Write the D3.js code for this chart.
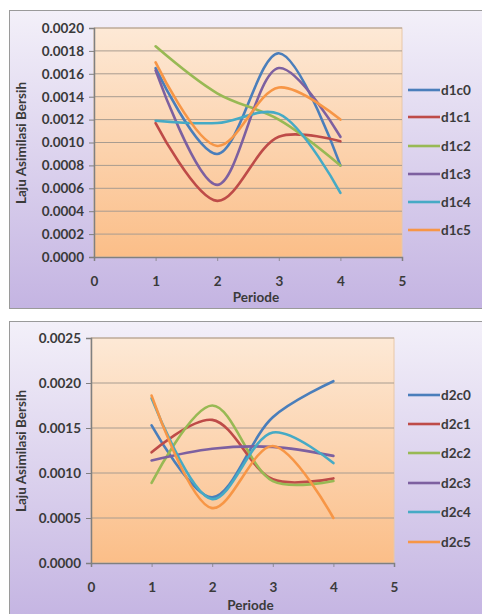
<!DOCTYPE html>
<html><head><meta charset="utf-8">
<script src="https://cdn.jsdelivr.net/npm/d3@7"></script>
<style>body{margin:0;background:#fff}svg{display:block}</style>
</head><body>
<svg id="c" width="482" height="614"></svg>
<script>
const periods = [1, 2, 3, 4];
const xTicks = [0, 1, 2, 3, 4, 5];
const colors = ["#4A7EBB", "#BE4B48", "#98B954", "#7D60A0", "#46AAC5", "#F79646"];

const names1 = ["d1c0", "d1c1", "d1c2", "d1c3", "d1c4", "d1c5"];
const d1c0 = [0.00165, 0.00090, 0.00178, 0.00080];
const d1c1 = [0.00117, 0.00049, 0.00105, 0.00101];
const d1c2 = [0.00184, 0.00143, 0.00120, 0.00080];
const d1c3 = [0.00163, 0.00063, 0.00165, 0.00105];
const d1c4 = [0.00119, 0.00117, 0.00125, 0.00056];
const d1c5 = [0.00170, 0.00097, 0.00148, 0.00120];
const yTicks1 = [0, 0.0002, 0.0004, 0.0006, 0.0008, 0.0010, 0.0012, 0.0014, 0.0016, 0.0018, 0.0020];

const names2 = ["d2c0", "d2c1", "d2c2", "d2c3", "d2c4", "d2c5"];
const d2c0 = [0.00153, 0.00073, 0.00162, 0.00202];
const d2c1 = [0.00123, 0.00159, 0.00093, 0.00094];
const d2c2 = [0.00089, 0.00175, 0.00091, 0.00091];
const d2c3 = [0.00114, 0.00127, 0.00129, 0.00119];
const d2c4 = [0.00183, 0.00071, 0.00145, 0.00111];
const d2c5 = [0.00186, 0.00061, 0.00130, 0.00050];
const yTicks2 = [0, 0.0005, 0.0010, 0.0015, 0.0020, 0.0025];

const svg = d3.select("#c");
const defs = svg.append("defs");
const bg = defs.append("linearGradient").attr("id","bg").attr("x1",0).attr("y1",0).attr("x2",0).attr("y2",1);
bg.append("stop").attr("offset","0%").attr("stop-color","#F3F0F9");
bg.append("stop").attr("offset","100%").attr("stop-color","#C4B4E2");
const pg = defs.append("linearGradient").attr("id","pg").attr("x1",0).attr("y1",0).attr("x2",0).attr("y2",1);
pg.append("stop").attr("offset","0%").attr("stop-color","#FDE9D6");
pg.append("stop").attr("offset","100%").attr("stop-color","#FBBE88");

const FONT = "Lato, 'Open Sans', sans-serif";
const FS = "13.5px";

function chart(cfg){
  const g = svg.append("g");
  g.append("rect").attr("x", cfg.box[0]).attr("y", cfg.box[1])
    .attr("width", cfg.box[2]).attr("height", cfg.box[3])
    .attr("fill","url(#bg)").attr("stroke","#9a9a9a").attr("stroke-width",1);
  const x = d3.scaleLinear().domain([0,5]).range([cfg.x0, cfg.x1]);
  const y = d3.scaleLinear().domain([0, cfg.ymax]).range([cfg.yb, cfg.yt]);
  g.append("rect").attr("x", x(0)).attr("y", y(cfg.ymax))
    .attr("width", x(5)-x(0)).attr("height", y(0)-y(cfg.ymax))
    .attr("fill","url(#pg)").attr("stroke","#E8C8A8").attr("stroke-width",1);
  g.append("g").selectAll("line").data(cfg.yTicks.filter(v=>v>0)).join("line")
    .attr("x1", x(0)).attr("x2", x(5)).attr("y1", d=>y(d)).attr("y2", d=>y(d))
    .attr("stroke","#A89C90").attr("stroke-width",1);
  const ya = g.append("g").attr("transform",`translate(${x(0)},0)`)
    .call(d3.axisLeft(y).tickValues(cfg.yTicks).tickFormat(d3.format(".4f")).tickSize(5).tickPadding(5));
  const xa = g.append("g").attr("transform",`translate(0,${y(0)})`)
    .call(d3.axisBottom(x).tickValues(xTicks).tickFormat(d3.format("d")).tickSize(4).tickPadding(15));
  [ya, xa].forEach(a=>{
    a.select(".domain").attr("stroke","#808080").attr("stroke-width",1.5);
    a.selectAll(".tick line").attr("stroke","#808080");
    a.selectAll("text").attr("font-family",FONT).attr("font-weight","bold")
      .attr("font-size",FS).attr("fill","#3a3a3a");
  });
  xa.selectAll(".tick line").attr("stroke-width",0.8);
  const line = d3.line().x((d,i)=>x(periods[i])).y(d=>y(d)).curve(d3.curveCatmullRom.alpha(0.5));
  cfg.series.forEach((s,i)=>{
    g.append("path").attr("d", line(s)).attr("fill","none")
      .attr("stroke", colors[i]).attr("stroke-width",2.6).attr("stroke-linecap","round");
  });
  g.append("text").attr("x", (x(0)+x(5))/2 + 8).attr("y", cfg.xtY)
    .attr("text-anchor","middle").attr("font-family",FONT).attr("font-weight","bold")
    .attr("font-size",FS).attr("fill","#3a3a3a").text("Periode");
  g.append("text").attr("transform",`translate(26,${cfg.ytY}) rotate(-90)`)
    .attr("text-anchor","middle").attr("font-family",FONT).attr("font-weight","bold")
    .attr("font-size",FS).attr("fill","#3a3a3a").text("Laju Asimilasi Bersih");
  cfg.names.forEach((n,i)=>{
    const ly = cfg.legY[i];
    g.append("line").attr("x1",408).attr("x2",440).attr("y1",ly).attr("y2",ly)
      .attr("stroke",colors[i]).attr("stroke-width",2.6);
    g.append("text").attr("x",441).attr("y",ly).attr("dy","0.35em")
      .attr("font-family",FONT).attr("font-weight","bold").attr("font-size",FS)
      .attr("fill","#3a3a3a").text(n);
  });
}

chart({box:[9.5,10.5,480,298], x0:94, x1:402, yt:28, yb:257, ymax:0.0020, yTicks:yTicks1,
  series:[d1c0,d1c1,d1c2,d1c3,d1c4,d1c5], names:names1,
  legY:[90,117,146,174,202,230], xtY:302, ytY:143});
chart({box:[9.5,321.5,480,300], x0:91, x1:394, yt:338, yb:563, ymax:0.0025, yTicks:yTicks2,
  series:[d2c0,d2c1,d2c2,d2c3,d2c4,d2c5], names:names2,
  legY:[395,424,453,483,512,542], xtY:610, ytY:451});
</script>
</body></html>
